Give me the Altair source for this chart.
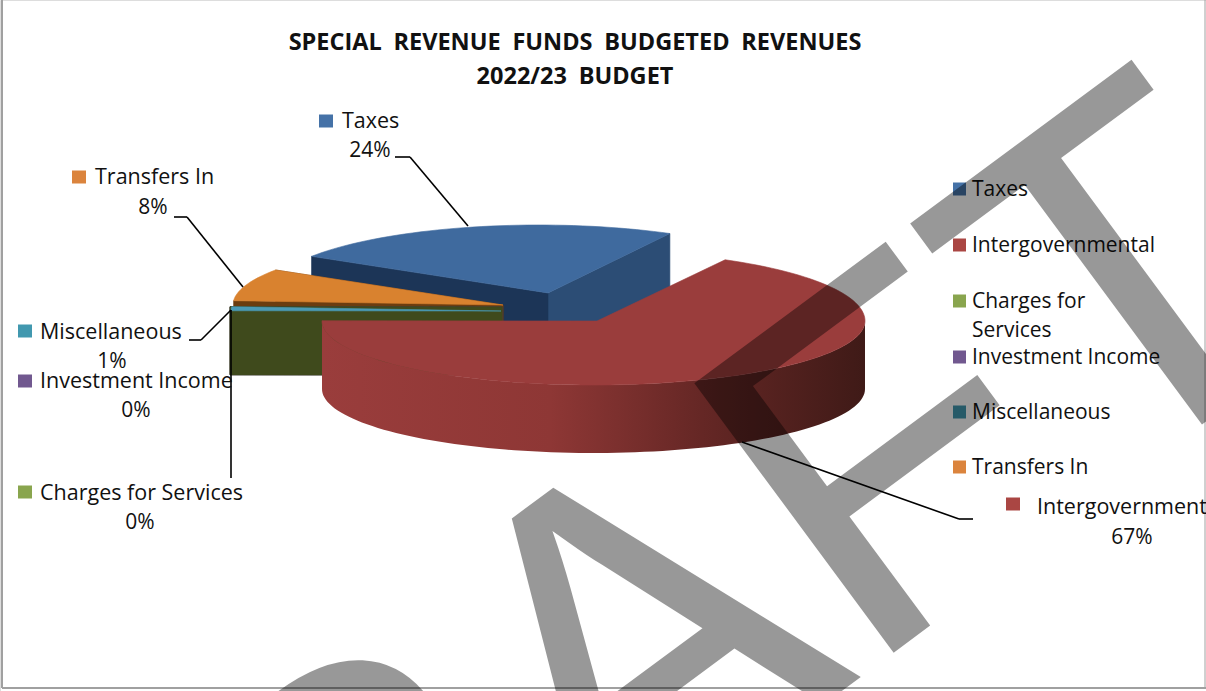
import math
import altair as alt
import pandas as pd

# Budget shares in percent, clockwise from the first slice
CATEGORIES = ["Taxes", "Intergovernmental", "Charges for Services",
              "Investment Income", "Miscellaneous", "Transfers In"]
SHARES = [24, 67, 0, 0, 1, 8]
TITLE_LINES = ["SPECIAL\u2002REVENUE\u2002FUNDS\u2002BUDGETED\u2002REVENUES", "2022/23\u2002BUDGET"]
LEGEND_LINES = [["Taxes"], ["Intergovernmental"], ["Charges for", "Services"],
                ["Investment Income"], ["Miscellaneous"], ["Transfers In"]]

FIRST_ANGLE = 302.6
DEPTH = 68
FONT = "Open Sans"

# Exploded position and ellipse of each slice, plus its shades
PIE = {
    "Taxes": dict(cx=539, cy=293, apex=(548, 293), rx=270, ry=68,
                  top="#3F6A9E", cut_start="#1C3557", cut_end="#2C4D75"),
    "Intergovernmental": dict(cx=593.5, cy=321, apex=(597, 321), rx=271.5, ry=64, ry_back=70,
                              top="#9A3D3C", cut_start="#7A2E2D", cut_end="#7A2E2D"),
    "Charges for Services": dict(cx=502, cy=307, apex=(502, 307), rx=272, ry=65,
                                 top="#3F4A1C", cut_start="#3F4A1C", cut_end="#3F4A1C"),
    "Investment Income": dict(cx=502, cy=307, apex=(502, 307), rx=272, ry=65,
                              top="#4A3860", cut_start="#4A3860", cut_end="#4A3860"),
    "Miscellaneous": dict(cx=501, cy=311, apex=(501, 311), rx=270, ry=65,
                          top="#4A9AB5", cut_start=None, cut_end=None),
    "Transfers In": dict(cx=503, cy=305, apex=(503, 305), rx=270, ry=65,
                         top="#D9822F", cut_start="#6B3D10", cut_end="#6B3D10"),
}
DRAW_ORDER = ["Taxes", "Transfers In", "Investment Income", "Charges for Services",
              "Miscellaneous", "Intergovernmental"]

# Slice angles follow directly from the shares
spans = {}
start = FIRST_ANGLE
for name, share in zip(CATEGORIES, SHARES):
    end = start + share * 3.6
    spans[name] = (start, end)
    start = end


def rim(p, a):
    r = math.radians(a)
    ry = p.get("ry_back", p["ry"]) if math.cos(r) > 0 else p["ry"]
    return (p["cx"] + p["rx"] * math.sin(r), p["cy"] - ry * math.cos(r))


def arc(p, a0, a1):
    n = max(2, int(abs(a1 - a0) / 2) + 2)
    return [rim(p, a0 + (a1 - a0) * i / (n - 1)) for i in range(n)]


def feature(points, fill):
    ring = [list(pt) for pt in points] + [list(points[0])]
    return {"type": "Feature", "properties": {"fill": fill},
            "geometry": {"type": "Polygon", "coordinates": [ring]}}


def cut_face(p, a, fill):
    x, y = rim(p, a)
    ax, ay = p["apex"]
    return feature([(ax, ay), (x, y), (x, y + DEPTH), (ax, ay + DEPTH)], fill)


slices = []
for name in DRAW_ORDER:
    p = PIE[name]
    a0, a1 = spans[name]
    if name == "Intergovernmental":
        continue
    if p["cut_start"]:
        slices.append(cut_face(p, a1, p["cut_end"]))
        slices.append(cut_face(p, a0, p["cut_start"]))
    if a1 > a0:
        slices.append(feature([p["apex"]] + arc(p, a0, a1), p["top"]))

red = PIE["Intergovernmental"]
ra0, ra1 = spans["Intergovernmental"]
ra0 -= 360
ra1 -= 360
front = arc(red, 90, ra1)
wall_points = front + [(x, y + DEPTH) for x, y in reversed(front)]
red_wall = [feature(wall_points, "#000")]
red_top = [feature([red["apex"]] + arc(red, ra0, ra1), red["top"])]

projection = dict(type="identity", scale=1, translate=[0, 0])


def shapes(features, **kw):
    return alt.Chart(alt.Data(values=features)).mark_geoshape(**kw).project(**projection)


pie_back = shapes(slices, strokeWidth=0.6).encode(
    fill=alt.Color("properties.fill:N", scale=None),
    stroke=alt.Color("properties.fill:N", scale=None),
)
wall_gradient = alt.Gradient(
    gradient="linear", x1=0, x2=1, y1=0, y2=0,
    stops=[
        alt.GradientStop(offset=0, color="#9A3D3C"),
        alt.GradientStop(offset=0.42, color="#8E3735"),
        alt.GradientStop(offset=0.7, color="#652725"),
        alt.GradientStop(offset=1, color="#3F1A17"),
    ],
)
pie_wall = shapes(red_wall, fill=wall_gradient, stroke=None)
pie_top = shapes(red_top, fill=red["top"], stroke=red["top"], strokeWidth=0.6)

# Leader lines from slices to their labels
leaders = pd.DataFrame([
    dict(x=395, y=157, x2=410, y2=157), dict(x=410, y=157, x2=468, y2=226),
    dict(x=174, y=217, x2=187, y2=217), dict(x=187, y=217, x2=243, y2=287),
    dict(x=189, y=340, x2=201, y2=340), dict(x=201, y=340, x2=231, y2=310),
    dict(x=231, y=310, x2=231, y2=478),
    dict(x=742, y=442, x2=959, y2=519), dict(x=959, y=519, x2=973, y2=519),
])
leader_layer = alt.Chart(leaders).mark_rule(color="black", strokeWidth=1.6).encode(
    x=alt.X("x:Q", scale=None, axis=None), x2="x2:Q",
    y=alt.Y("y:Q", scale=None, axis=None), y2="y2:Q",
)

# Swatches: data-label keys, then the legend column
KEY_COLORS = {"Taxes": "#4572A7", "Intergovernmental": "#AA4643",
              "Charges for Services": "#89A54E", "Investment Income": "#71588F",
              "Miscellaneous": "#4198AF", "Transfers In": "#DB843D"}
LABEL_POS = {
    "Taxes": dict(kx=319, ky=121, tx=342, ty=122, px=370, py=151),
    "Intergovernmental": dict(kx=1006, ky=504, tx=1037, ty=508, px=1132, py=538),
    "Charges for Services": dict(kx=18, ky=492, tx=40, ty=494, px=140, py=523),
    "Investment Income": dict(kx=18, ky=381, tx=40, ty=382, px=136, py=411),
    "Miscellaneous": dict(kx=18, ky=331, tx=40, ty=333, px=112, py=362),
    "Transfers In": dict(kx=72, ky=177, tx=95, ty=178, px=153, py=208),
}
LEGEND_Y = [189, 245, 301, 357, 412, 467]
LABEL_SIZE = 21.5
LEGEND_SIZE = 21

keys = []
texts = []
for name, share in zip(CATEGORIES, SHARES):
    pos = LABEL_POS[name]
    keys.append(dict(x=pos["kx"], x2=pos["kx"] + 14, y=pos["ky"] - 6.5,
                     y2=pos["ky"] + 6.5, c=KEY_COLORS[name]))
    texts.append(dict(x=pos["tx"], y=pos["ty"], t=name, a="left", s=LABEL_SIZE))
    texts.append(dict(x=pos["px"], y=pos["py"], t=f"{share}%", a="center", s=LEGEND_SIZE))
for name, lines, y in zip(CATEGORIES, LEGEND_LINES, LEGEND_Y):
    keys.append(dict(x=953, x2=966, y=y - 6.5, y2=y + 6.5, c=KEY_COLORS[name]))
    for i, line in enumerate(lines):
        texts.append(dict(x=972, y=y + 1 + i * 28.5, t=line, a="left", s=LEGEND_SIZE))

key_layer = alt.Chart(pd.DataFrame(keys)).mark_rect().encode(
    x=alt.X("x:Q", scale=None, axis=None), x2="x2:Q",
    y=alt.Y("y:Q", scale=None, axis=None), y2="y2:Q",
    fill=alt.Color("c:N", scale=None),
)
text_df = pd.DataFrame(texts)


def text_layer(frame, align):
    return alt.Chart(frame).mark_text(
        align=align, baseline="middle", font=FONT, color="#111111"
    ).encode(
        x=alt.X("x:Q", scale=None, axis=None),
        y=alt.Y("y:Q", scale=None, axis=None),
        size=alt.Size("s:Q", scale=None, legend=None),
        text="t:N",
    )


left_text = text_layer(text_df[text_df.a == "left"], "left")
centre_text = text_layer(text_df[text_df.a == "center"], "center")

title_layer = alt.Chart(pd.DataFrame({
    "t": TITLE_LINES, "x": [575, 575], "y": [43, 77]
})).mark_text(
    align="center", baseline="middle", font=FONT, fontSize=23.5, fontWeight="bold", color="#111111"
).encode(
    x=alt.X("x:Q", scale=None, axis=None),
    y=alt.Y("y:Q", scale=None, axis=None),
    text="t:N",
)

# Outer frame of the sheet
frame_lines = pd.DataFrame([
    dict(x=2, y=0, x2=2, y2=688, w=2), dict(x=2, y=688, x2=1206, y2=688, w=2),
    dict(x=1205, y=0, x2=1205, y2=688, w=1),
])
frame_layer = alt.Chart(frame_lines).mark_rule(color="#A0A0A0").encode(
    x=alt.X("x:Q", scale=None, axis=None), x2="x2:Q",
    y=alt.Y("y:Q", scale=None, axis=None), y2="y2:Q",
    strokeWidth=alt.StrokeWidth("w:Q", scale=None),
)

# Diagonal watermark across the sheet
watermark = alt.Chart(pd.DataFrame({"t": ["DRAFT"], "x": [35], "y": [1288]})).mark_text(
    align="left", baseline="alphabetic", font="Liberation Sans", fontSize=487,
    angle=323.5, color="black", opacity=0.4,
).encode(
    x=alt.X("x:Q", scale=None, axis=None),
    y=alt.Y("y:Q", scale=None, axis=None),
    text="t:N",
)

chart = alt.layer(
    frame_layer, pie_back, pie_wall, pie_top, leader_layer, key_layer,
    left_text, centre_text, title_layer, watermark,
).properties(
    width=1206, height=691, padding=0, autosize=alt.AutoSizeParams(type="none"),
).configure_view(stroke=None).configure(background="white")

chart.save("out.html", embed_options={"renderer": "svg", "actions": False})
